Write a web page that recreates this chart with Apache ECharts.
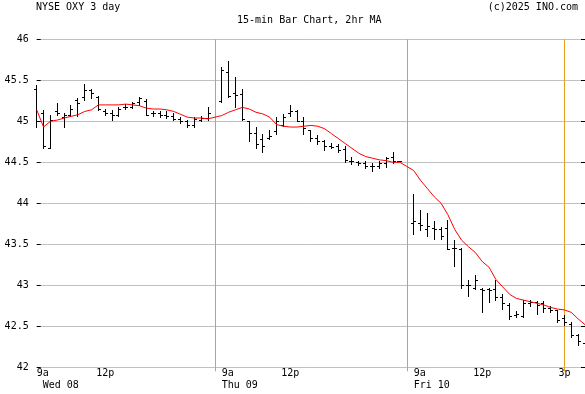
<!DOCTYPE html>
<html><head><meta charset="utf-8">
<script src="https://cdn.jsdelivr.net/npm/echarts@6/dist/echarts.min.js"></script>
<style>html,body{margin:0;padding:0;background:#fff}#c{width:585px;height:394px}</style>
</head><body><div id="c"></div>
<script>
// 15-minute slots; "" marks a day separator slot
const categories = [
 "W0930","W0945","W1000","W1015","W1030","W1045","W1100","W1115","W1130","W1145","W1200","W1215","W1230","W1245","W1300","W1315","W1330","W1345","W1400","W1415","W1430","W1445","W1500","W1515","W1530","W1545",
 "",
 "T0930","T0945","T1000","T1015","T1030","T1045","T1100","T1115","T1130","T1145","T1200","T1215","T1230","T1245","T1300","T1315","T1330","T1345","T1400","T1415","T1430","T1445","T1500","T1515","T1530","T1545","T1600",
 "",
 "F0930","F0945","F1000","F1015","F1030","F1045","F1100","F1115","F1130","F1145","F1200","F1215","F1230","F1245","F1300","F1315","F1330","F1345","F1400","F1415","F1430","F1445","F1500","F1515","F1530","F1545"
];
const opens = [
 45.40,45.10,44.68,45.12,45.05,45.08,45.26,45.30,45.38,45.30,45.12,45.10,45.08,45.18,45.18,45.24,45.25,45.10,45.10,45.08,45.06,45.03,45.00,44.96,45.02,45.04,
 null,
 45.25,45.60,45.35,45.33,45.00,44.86,44.78,44.80,44.88,44.95,45.10,45.12,45.00,44.90,44.80,44.76,44.70,44.70,44.66,44.52,44.50,44.49,44.46,44.45,44.49,44.56,44.52,
 null,
 43.76,43.76,43.69,43.70,43.69,43.70,43.46,43.44,43.00,42.97,42.95,42.95,42.95,42.86,42.76,42.64,42.63,42.79,42.80,42.78,42.72,42.70,42.60,42.53,42.40,42.30
];
const highs = [
 45.44,45.14,45.08,45.22,45.10,45.20,45.28,45.46,45.40,45.31,45.15,45.14,45.17,45.21,45.24,45.30,45.27,45.12,45.12,45.12,45.10,45.05,45.02,45.05,45.06,45.17,
 null,
 45.66,45.74,45.54,45.39,45.00,44.93,44.84,44.90,45.05,45.09,45.20,45.14,45.05,44.90,44.83,44.77,44.74,44.72,44.70,44.57,44.52,44.51,44.49,44.51,44.57,44.63,44.52,
 null,
 44.11,43.92,43.88,43.78,43.71,43.80,43.55,43.46,43.07,43.12,42.97,42.97,43.06,42.90,42.78,42.69,42.82,42.82,42.81,42.81,42.75,42.70,42.64,42.55,42.41,42.33
];
const lows = [
 44.93,44.67,44.67,45.08,44.93,45.06,45.07,45.26,45.28,45.14,45.08,45.02,45.06,45.15,45.16,45.20,45.08,45.06,45.05,45.04,45.01,44.98,44.93,44.93,45.00,45.02,
 null,
 45.24,45.30,45.17,45.02,44.76,44.68,44.62,44.78,44.84,44.94,45.07,45.00,44.85,44.76,44.72,44.65,44.67,44.63,44.50,44.48,44.47,44.43,44.39,44.43,44.44,44.49,44.52,
 null,
 43.63,43.67,43.60,43.57,43.57,43.44,43.23,42.97,42.87,42.96,42.67,42.80,42.82,42.71,42.59,42.61,42.61,42.75,42.65,42.68,42.67,42.55,42.52,42.37,42.27,42.17
];
const closes = [
 45.00,44.70,45.02,45.10,45.08,45.15,45.22,45.38,45.34,45.15,45.10,45.08,45.15,45.17,45.22,45.28,45.08,45.10,45.08,45.06,45.03,45.00,44.96,45.03,45.04,45.10,
 null,
 45.62,45.31,45.32,45.03,44.86,44.72,44.70,44.82,45.00,45.05,45.13,45.00,44.92,44.80,44.76,44.70,44.69,44.65,44.53,44.52,44.49,44.46,44.45,44.49,44.55,44.52,44.52,
 null,
 43.78,43.74,43.72,43.69,43.60,43.44,43.46,43.00,43.00,43.06,42.94,42.94,42.86,42.78,42.62,42.65,42.79,42.80,42.76,42.72,42.70,42.58,42.55,42.40,42.32,42.23
];
// 2hr moving average
const ma2h = [
 45.14,44.93,45.00,45.015,45.04,45.06,45.08,45.12,45.14,45.20,45.20,45.20,45.20,45.21,45.20,45.19,45.16,45.15,45.15,45.14,45.12,45.085,45.05,45.04,45.04,45.03,
 45.05,
 45.07,45.11,45.14,45.17,45.15,45.11,45.09,45.05,44.96,44.94,44.93,44.93,44.94,44.95,44.94,44.91,44.85,44.79,44.73,44.67,44.61,44.57,44.55,44.53,44.52,44.50,44.50,
 44.45,
 44.40,44.28,44.18,44.08,44.00,43.86,43.68,43.55,43.47,43.40,43.29,43.22,43.07,42.98,42.89,42.84,42.82,42.80,42.78,42.76,42.73,42.71,42.70,42.67,42.59,42.52
];
const hourTickSlots = ["W1200","T1200","F1200","F1500"];
const hourTickLabels = ["12p","12p","12p","3p"];
const dayTickSlots = ["W0930","T0930","F0930"];
const dayTickLabels = ["9a\n Wed 08","9a\nThu 09","9a\nFri 10"];
const markerSlotIdx = [26, 54, 77]; // day separators and 3p marker
const yTicks = { min: 42, max: 46, step: 0.5 };

const FONT = 'DejaVu Sans Mono';
const ORANGE = '#E6A01E';
const GRID = '#C0C0C0';

const ohlc = [];
categories.forEach((c, i) => {
  if (highs[i] != null) ohlc.push([i, opens[i], highs[i], lows[i], closes[i]]);
});

function renderOHLC(params, api) {
  const i = api.value(0);
  const o = api.value(1), h = api.value(2), l = api.value(3), c = api.value(4);
  const pH = api.coord([i, h]), pL = api.coord([i, l]);
  const pO = api.coord([i, o]), pC = api.coord([i, c]);
  const x = Math.floor(pH[0]);
  const yH = Math.round(pH[1]), yL = Math.round(pL[1]);
  const st = { fill: '#000' };
  return { type: 'group', children: [
    { type: 'rect', shape: { x: x, y: yH, width: 1, height: Math.max(1, yL - yH + 1) }, style: st },
    { type: 'rect', shape: { x: x - 2, y: Math.round(pO[1]), width: 2, height: 1 }, style: st },
    { type: 'rect', shape: { x: x + 1, y: Math.round(pC[1]), width: 2, height: 1 }, style: st }
  ]};
}

const chart = echarts.init(document.getElementById('c'), null, { renderer: 'canvas' });
const txt = { fontFamily: FONT, fontSize: 10, color: '#000', fontWeight: 'normal' };
chart.setOption({
  animation: false,
  backgroundColor: '#fff',
  title: [
    { text: 'NYSE OXY 3 day', left: 36, top: 2, padding: 0, textStyle: txt },
    { text: '15-min Bar Chart, 2hr MA', left: 237, top: 15, padding: 0, textStyle: txt },
    { text: '(c)2025 INO.com', right: 7, top: 2, padding: 0, textStyle: txt }
  ],
  grid: { left: 36.7, top: 39.3, width: 548.6, height: 328, containLabel: false },
  xAxis: [
    {
      type: 'category', data: categories, boundaryGap: false,
      axisLine: { show: false },
      axisTick: { show: true, length: 4, inside: false, interval: (idx) => markerSlotIdx.includes(idx), lineStyle: { color: ORANGE, width: 1 } },
      splitLine: { show: true, interval: (idx) => markerSlotIdx.includes(idx), lineStyle: { color: ORANGE, width: 1 } },
      axisLabel: {
        show: true, margin: 0, fontFamily: FONT, fontSize: 10, color: '#000', lineHeight: 12,
        interval: (idx, val) => hourTickSlots.includes(val),
        formatter: (val) => { const k = hourTickSlots.indexOf(val); return k >= 0 ? hourTickLabels[k] : ''; }
      }
    },
    {
      type: 'category', data: categories, boundaryGap: false, position: 'bottom',
      axisLine: { show: false }, axisTick: { show: false }, splitLine: { show: false },
      axisLabel: {
        show: true, margin: 0, fontFamily: FONT, fontSize: 10, color: '#000', lineHeight: 12, align: 'left',
        interval: (idx, val) => dayTickSlots.includes(val),
        formatter: (val) => { const k = dayTickSlots.indexOf(val); return k >= 0 ? dayTickLabels[k] : ''; }
      }
    }
  ],
  yAxis: [
    {
      type: 'value', min: yTicks.min, max: yTicks.max, interval: yTicks.step, position: 'left',
      axisLine: { show: false },
      axisTick: { show: true, inside: true, length: 4, lineStyle: { color: '#000', width: 1 } },
      splitLine: { show: true, lineStyle: { color: GRID, width: 1 } },
      axisLabel: { margin: 8, fontFamily: FONT, fontSize: 10, color: '#000' }
    },
    {
      type: 'value', min: yTicks.min, max: yTicks.max, interval: yTicks.step, position: 'right',
      axisLine: { show: false },
      axisTick: { show: true, inside: true, length: 4, lineStyle: { color: '#000', width: 1 } },
      splitLine: { show: false },
      axisLabel: { show: false }
    }
  ],
  series: [
    {
      type: 'custom', name: 'OXY', xAxisIndex: 0, yAxisIndex: 0, clip: false,
      renderItem: renderOHLC, data: ohlc, encode: { x: 0, y: [1, 2, 3, 4] }, z: 3
    },
    {
      type: 'line', name: '2hr MA', xAxisIndex: 0, yAxisIndex: 0, data: ma2h,
      showSymbol: false, symbol: 'none', smooth: false,
      lineStyle: { color: '#FF0000', width: 1 }, z: 4
    }
  ]
});
</script></body></html>
